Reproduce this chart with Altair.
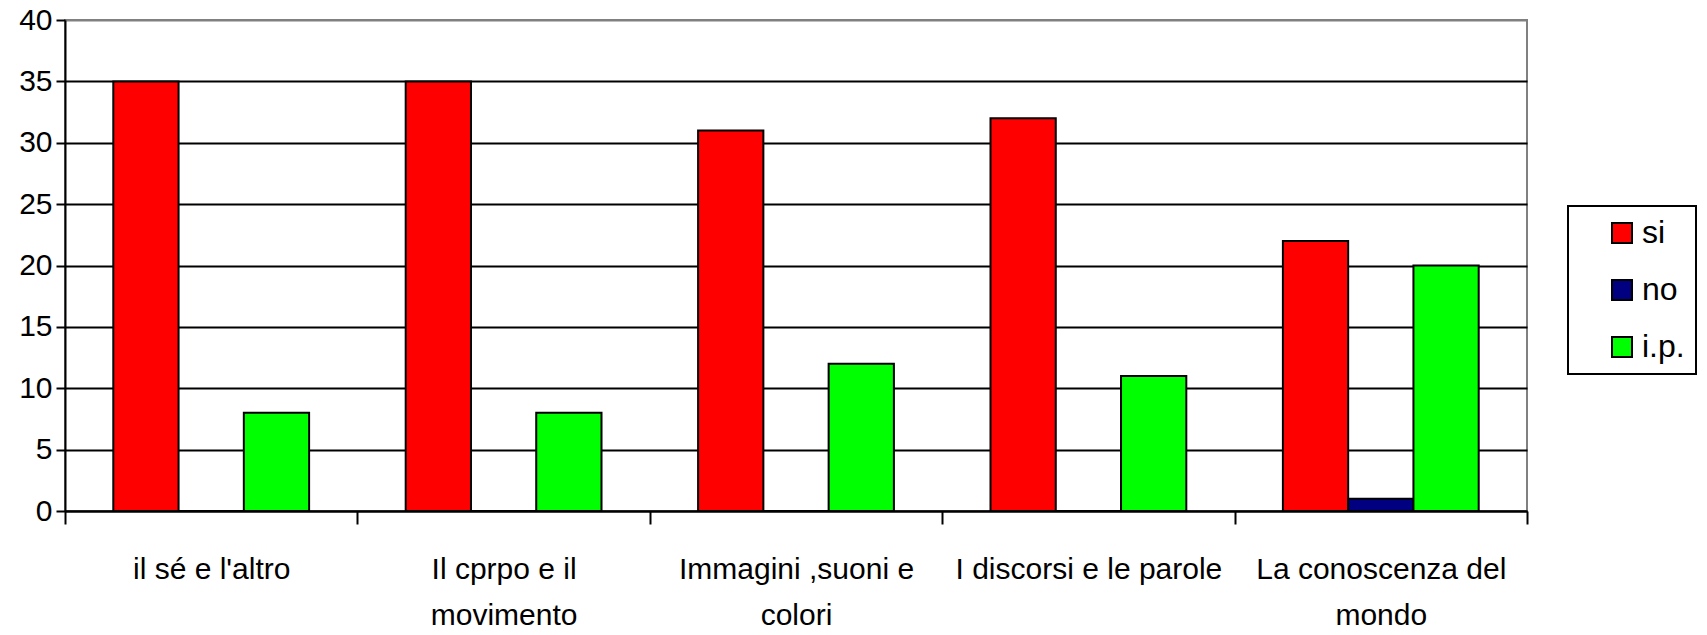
import altair as alt
import pandas as pd

categories = [
    "il sé e l'altro",
    "Il cprpo e il\nmovimento",
    "Immagini ,suoni e\ncolori",
    "I discorsi e le parole",
    "La conoscenza del\nmondo",
]
series = ["si", "no", "i.p."]
si = [35, 35, 31, 32, 22]
no = [0, 0, 0, 0, 1]
ip = [8, 8, 12, 11, 20]
colors = ["#FF0000", "#000080", "#00FF00"]
yticks = [0, 5, 10, 15, 20, 25, 30, 35, 40]

rows = []
for s, vals in zip(series, [si, no, ip]):
    for c, v in zip(categories, vals):
        rows.append({"categoria": c, "serie": s, "valore": v})
df = pd.DataFrame(rows)

FONT = "Liberation Sans, Arial, sans-serif"

chart = alt.Chart(df).mark_bar(stroke="black", strokeWidth=2).encode(
    x=alt.X(
        "categoria:N",
        sort=categories,
        scale=alt.Scale(paddingInner=0, paddingOuter=0),
        axis=alt.Axis(
            title=None,
            labelAngle=0,
            tickBand="extent",
            labelExpr="split(datum.label, '\\n')",
            labelLineHeight=46,
            labelFontSize=30,
            labelFont=FONT,
            labelColor="black",
            labelLimit=300,
            labelPadding=30,
            tickSize=13,
            tickWidth=2,
            tickColor="black",
            domainColor="black",
            domainWidth=2,
            grid=False,
        ),
    ),
    xOffset=alt.XOffset(
        "serie:N", sort=series, scale=alt.Scale(paddingInner=0, paddingOuter=0.74)
    ),
    y=alt.Y(
        "valore:Q",
        scale=alt.Scale(domain=[0, 40], nice=False),
        axis=alt.Axis(
            title=None,
            values=yticks,
            labelFontSize=30,
            labelFont=FONT,
            labelColor="black",
            labelPadding=4,
            tickSize=9,
            tickWidth=2,
            tickColor="black",
            domainColor="black",
            domainWidth=2,
            grid=True,
            gridWidth=2,
            gridColor={"condition": {"test": "datum.value == 40", "value": "#808080"}, "value": "black"},
        ),
    ),
    color=alt.Color(
        "serie:N",
        sort=series,
        scale=alt.Scale(domain=series, range=colors),
        legend=alt.Legend(
            title=None,
            orient="none",
            legendX=1503,
            legendY=186,
            symbolType="square",
            symbolSize=400,
            symbolStrokeColor="black",
            symbolStrokeWidth=2,
            symbolOffset=27,
            labelFontSize=32,
            labelFont=FONT,
            labelColor="black",
            labelOffset=4,
            rowPadding=25,
            padding=11,
            strokeColor="black",
            fillColor="white",
        ),
    ),
).properties(
    width=1462,
    height=491,
    autosize=alt.AutoSizeParams(type="none"),
    padding={"left": 57, "top": 12, "right": 171, "bottom": 123},
).configure_view(
    stroke="#808080", strokeWidth=2
).configure_legend(
    strokeWidth=2
)

chart.save("out.html", embed_options={"renderer": "svg", "actions": False})
